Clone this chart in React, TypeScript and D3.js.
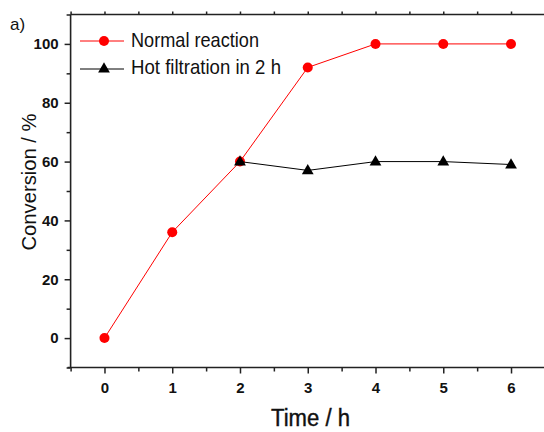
import React, { useRef, useEffect } from "react";
import * as d3 from "d3";

// hours on the x axis
const hours = [0, 1, 2, 3, 4, 5, 6];
// conversion (%) for the normal run
const normalReaction = [0, 36, 60, 92, 100, 100, 100];
// after hot filtration at 2 h
const filtrationHours = [2, 3, 4, 5, 6];
const hotFiltration = [60, 57, 60, 60, 59];

const xMajor = [0, 1, 2, 3, 4, 5, 6];
const xMinor = [-0.5, 0.5, 1.5, 2.5, 3.5, 4.5, 5.5, 6.5];
const yMajor = [0, 20, 40, 60, 80, 100];
const yMinor = [-10, 10, 30, 50, 70, 90, 110];

const legendLabels = ["Normal reaction", "Hot filtration in 2 h"];

const W = 544;
const H = 432;

const App = () => {
  const svgRef = useRef(null);

  useEffect(() => {
    const svg = d3.select(svgRef.current);
    svg.selectAll("*").remove();

    const x = d3.scaleLinear().domain([-0.5, 6.5]).range([70.6, 544.9]);
    const y = d3.scaleLinear().domain([-10, 110]).range([367.5, 14.5]);
    const axisColor = "#222";
    const font = "'Liberation Sans', Arial, sans-serif";

    const styleAxis = (g) => {
      g.attr("font-size", null).attr("font-family", null);
      g.selectAll("path.domain").remove();
      g.selectAll("line").attr("stroke", axisColor).attr("stroke-width", 1.5);
      g.selectAll("text")
        .style("font-family", font)
        .style("font-weight", "bold")
        .style("font-size", "15px")
        .attr("fill", "#111");
    };

    // frame lines
    svg.append("line")
      .attr("x1", x(-0.5) - 3).attr("x2", W)
      .attr("y1", y(-10)).attr("y2", y(-10))
      .attr("stroke", axisColor).attr("stroke-width", 1.6);
    svg.append("line")
      .attr("x1", x(-0.5)).attr("x2", W)
      .attr("y1", y(110)).attr("y2", y(110))
      .attr("stroke", axisColor).attr("stroke-width", 1.6);
    svg.append("line")
      .attr("x1", x(-0.5)).attr("x2", x(-0.5))
      .attr("y1", y(110)).attr("y2", y(-10))
      .attr("stroke", axisColor).attr("stroke-width", 1.6);

    // bottom axis
    svg.append("g")
      .attr("transform", `translate(0,${y(-10)})`)
      .call(d3.axisBottom(x).tickValues(xMajor).tickSize(6).tickSizeOuter(0).tickPadding(9).tickFormat(d3.format("d")))
      .call(styleAxis);
    svg.append("g")
      .attr("transform", `translate(0,${y(-10)})`)
      .call(d3.axisBottom(x).tickValues(xMinor).tickSize(4).tickSizeOuter(0).tickFormat(() => ""))
      .call(styleAxis);

    // top axis (ticks only)
    svg.append("g")
      .attr("transform", `translate(0,${y(110)})`)
      .call(d3.axisTop(x).tickValues([...xMajor, ...xMinor]).tickSize(3).tickSizeOuter(0).tickFormat(() => ""))
      .call(styleAxis);

    // left axis
    svg.append("g")
      .attr("transform", `translate(${x(-0.5)},0)`)
      .call(d3.axisLeft(y).tickValues(yMajor).tickSize(6).tickSizeOuter(0).tickPadding(6).tickFormat(d3.format("d")))
      .call(styleAxis);
    svg.append("g")
      .attr("transform", `translate(${x(-0.5)},0)`)
      .call(d3.axisLeft(y).tickValues(yMinor).tickSize(4).tickSizeOuter(0).tickFormat(() => ""))
      .call(styleAxis);

    const line = d3.line().x((d) => x(d[0])).y((d) => y(d[1]));
    const triangle = d3.symbol().type(d3.symbolTriangle).size(60);

    // normal reaction
    const normalPts = hours.map((h, i) => [h, normalReaction[i]]);
    svg.append("path")
      .datum(normalPts)
      .attr("d", line)
      .attr("fill", "none")
      .attr("stroke", "#ff0000")
      .attr("stroke-width", 1);
    svg.selectAll(".nr")
      .data(normalPts)
      .enter()
      .append("circle")
      .attr("class", "nr")
      .attr("cx", (d) => x(d[0]))
      .attr("cy", (d) => y(d[1]))
      .attr("r", 5)
      .attr("fill", "#ff0000");

    // hot filtration
    const hotPts = filtrationHours.map((h, i) => [h, hotFiltration[i]]);
    svg.append("path")
      .datum(hotPts)
      .attr("d", line)
      .attr("fill", "none")
      .attr("stroke", "#000")
      .attr("stroke-width", 1);
    svg.selectAll(".hf")
      .data(hotPts)
      .enter()
      .append("path")
      .attr("class", "hf")
      .attr("d", triangle)
      .attr("transform", (d) => `translate(${x(d[0])},${y(d[1]) + 0.5})`)
      .attr("fill", "#000");

    // legend
    const lg = svg.append("g");
    const rows = [
      { y: 41, color: "#ff0000", marker: "circle", w: 128 },
      { y: 69, color: "#000", marker: "triangle", w: 150 },
    ];
    rows.forEach((r, i) => {
      lg.append("line")
        .attr("x1", 80).attr("x2", 124)
        .attr("y1", r.y).attr("y2", r.y)
        .attr("stroke", r.color).attr("stroke-width", 1);
      if (r.marker === "circle") {
        lg.append("circle").attr("cx", 104).attr("cy", r.y).attr("r", 5).attr("fill", r.color);
      } else {
        lg.append("path").attr("d", triangle).attr("transform", `translate(104,${r.y})`).attr("fill", r.color);
      }
      lg.append("text")
        .attr("x", 131)
        .attr("y", r.y + 6 + (i === 1 ? -1 : 0))
        .attr("font-family", font)
        .attr("font-size", 21)
        .attr("textLength", r.w)
        .attr("lengthAdjust", "spacingAndGlyphs")
        .attr("fill", "#111")
        .text(legendLabels[i]);
    });

    // axis titles
    svg.append("text")
      .attr("x", 271)
      .attr("y", 426)
      .attr("font-family", font)
      .attr("font-size", 23)
      .attr("textLength", 79)
      .attr("lengthAdjust", "spacingAndGlyphs")
      .attr("stroke", "#111")
      .attr("stroke-width", 0.4)
      .attr("fill", "#111")
      .text("Time / h");

    svg.append("text")
      .attr("transform", "translate(36,182) rotate(-90)")
      .attr("text-anchor", "middle")
      .attr("font-family", font)
      .attr("font-size", 20)
      .attr("textLength", 137)
      .attr("lengthAdjust", "spacingAndGlyphs")
      .attr("fill", "#111")
      .text("Conversion / %");

    svg.append("text")
      .attr("x", 10)
      .attr("y", 30)
      .attr("font-family", font)
      .attr("font-size", 17)
      .attr("fill", "#111")
      .text("a)");
  }, []);

  return (
    <svg
      ref={svgRef}
      width={W}
      height={H}
      style={{ position: "absolute", left: 0, top: 0, background: "#fff" }}
    />
  );
};

export default App;
